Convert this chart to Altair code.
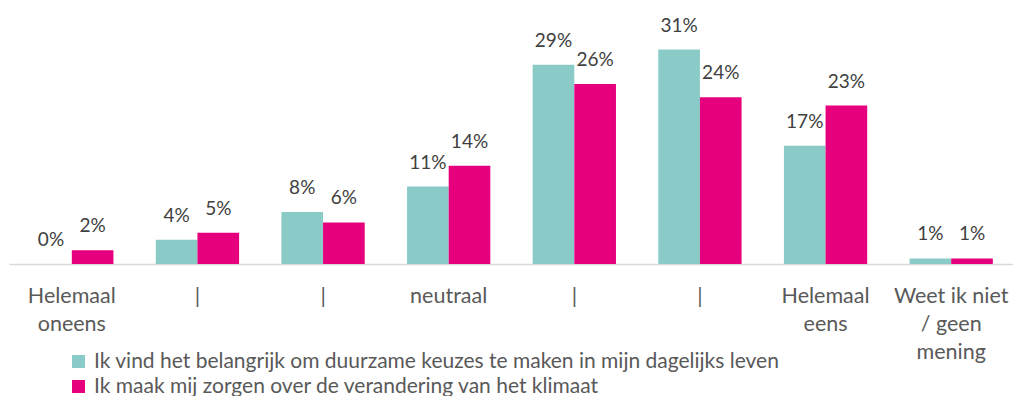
import json
import altair as alt
import pandas as pd

# ---- data ----
categories = [
    "Helemaal\noneens", "|", "|", "neutraal", "|", "|",
    "Helemaal\neens", "Weet ik niet\n/ geen\nmening",
]
series = [
    "Ik vind het belangrijk om duurzame keuzes te maken in mijn dagelijks leven",
    "Ik maak mij zorgen over de verandering van het klimaat",
]
values_duurzaam = [0.0, 3.5, 7.5, 11.2, 28.8, 31.0, 17.1, 0.8]
values_klimaat = [2.0, 4.5, 6.0, 14.2, 26.0, 24.1, 22.9, 0.8]
colors = ["#8ACBC8", "#E6007E"]

rows = []
for i, _ in enumerate(categories):
    rows.append({"cat": i, "series": series[0], "value": values_duurzaam[i]})
    rows.append({"cat": i, "series": series[1], "value": values_klimaat[i]})
df = pd.DataFrame(rows)

label_lines = [c.split("\n") for c in categories]
label_expr = json.dumps(label_lines) + "[datum.value]"

FONT = "Lato"

base = alt.Chart(df).encode(
    x=alt.X(
        "cat:O",
        scale=alt.Scale(paddingInner=0.337, paddingOuter=0.1685, range=[1, 1006]),
        axis=alt.Axis(
            title=None,
            labelExpr=label_expr,
            labelAngle=0,
            ticks=False,
            domainColor="#D9D9D9",
            domainWidth=1.5,
            labelFont=FONT,
            labelFontSize=21.5,
            labelColor="#595959",
            labelLineHeight=28,
            labelPadding=21,
            labelBaseline="top",
        ),
    ),
    xOffset=alt.XOffset(
        "series:N",
        sort=series,
        scale=alt.Scale(domain=series, paddingInner=0, paddingOuter=0),
    ),
    y=alt.Y(
        "value:Q",
        scale=alt.Scale(domain=[0, 37], nice=False, zero=True),
        axis=None,
    ),
)

bars = base.mark_bar().encode(
    color=alt.Color(
        "series:N",
        sort=series,
        scale=alt.Scale(domain=series, range=colors),
        legend=alt.Legend(
            title=None,
            orient="none",
            legendX=60,
            legendY=343,
            direction="vertical",
            symbolType="square",
            symbolSize=169,
            symbolStrokeWidth=0,
            labelFont=FONT,
            labelFontSize=21,
            labelColor="#595959",
            labelOffset=5,
            labelLimit=2000,
            rowPadding=3,
            padding=0,
        ),
    )
)

texts = base.transform_calculate(
    lbl="format(datum.value, '.0f') + '%'"
).mark_text(
    font=FONT, fontSize=19, color="#404040", baseline="alphabetic", dy=-18
).encode(text="lbl:N")

chart = (
    alt.layer(bars, texts)
    .properties(
        width=1005,
        height=256,
        padding={"left": 0, "top": 0, "right": 0, "bottom": 132},
        autosize=alt.AutoSizeParams(type="none"),
    )
    .configure_view(stroke=None)
)

chart.save("out.html", embed_options={"renderer": "svg", "actions": False})
